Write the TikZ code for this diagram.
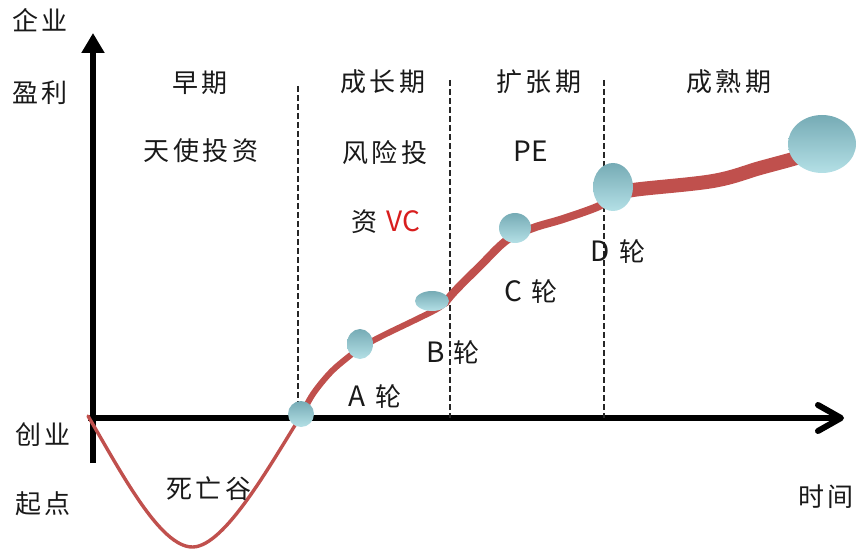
\documentclass[tikz,border=0pt]{standalone}
\usepackage{fontspec}
\setmainfont{Noto Sans CJK SC}
\newfontfamily\cjk[LetterSpace=14]{Noto Sans CJK SC}
\newfontfamily\latn{Noto Sans CJK SC}
\usetikzlibrary{arrows.meta,shapes.geometric}
\definecolor{curvered}{HTML}{C0504D}
\definecolor{vcred}{HTML}{D81E1E}
\definecolor{balltop}{HTML}{76ABB5}
\definecolor{ballbot}{HTML}{B4E0E6}
\newcommand{\lt}[1]{{\latn\fontsize{28}{30}\selectfont #1}}
\begin{document}
\begin{tikzpicture}[x=1pt,y=-1pt,
  lbl/.style={font=\cjk\fontsize{26}{30}\selectfont, inner sep=0pt, anchor=center, text=black!90},
  ball/.style={ellipse, top color=balltop, bottom color=ballbot, draw=none, inner sep=0pt},
  divider/.style={dash pattern=on 6pt off 3pt, line width=2.2pt, black!85},
  axis/.style={line width=6pt, black},
  growth/.style={curvered, line cap=round, line join=round}]
\useasboundingbox (0,0) rectangle (862,556);

% axes
\coordinate (ybot) at (93,463);
\coordinate (ytip) at (93,33);
\coordinate (xleft) at (88,418);
\coordinate (xend) at (838,418);
\coordinate (chevA) at (818,405);
\coordinate (chevB) at (818,431);
\coordinate (chevT) at (841,418);
\draw[axis, -{Triangle[length=20pt,width=22pt]}] (ybot) -- (ytip);
\draw[axis] (xleft) -- (xend);
\draw[axis, line cap=round, line join=round] (chevA) -- (chevT) -- (chevB);

% dividers
\coordinate (d1t) at (298,86);  \coordinate (d1b) at (298,418);
\coordinate (d2t) at (450,80);  \coordinate (d2b) at (450,418);
\coordinate (d3t) at (604,80);  \coordinate (d3b) at (604,418);
\draw[divider] (d1t) -- (d1b);
\draw[divider] (d2t) -- (d2b);
\draw[divider] (d3t) -- (d3b);

% growth curve
\coordinate (start) at (88,416);
\coordinate (valley) at (193,547);
\coordinate (cross) at (302,414);
\draw[growth, line width=3.4pt] (start) .. controls (120,470) and (160,548) .. (valley)
  .. controls (225,546) and (270,465) .. (cross);
\draw[growth, line width=6pt] plot[smooth, tension=0.6] coordinates
  {(302,414) (313,394) (330,373) (347,358) (362,347) (382,336) (413,321) (437,309) (445,303)};
\draw[growth, line width=8pt] plot[smooth, tension=0.6] coordinates
  {(445,303) (455,291) (480,266) (507,240) (533,228) (563,219) (597,207) (613,198)};
\draw[growth, line width=14pt] plot[smooth, tension=0.6] coordinates
  {(613,196) (633,190) (713,181) (760,168) (793,159) (815,152)};

% balls
\node[ball, minimum width=26pt, minimum height=26pt] (b0) at (301,414) {};
\node[ball, minimum width=26pt, minimum height=30pt] (bA) at (360,344) {};
\node[ball, minimum width=34pt, minimum height=20pt] (bB) at (432,301) {};
\node[ball, minimum width=32pt, minimum height=30pt] (bC) at (515,228) {};
\node[ball, minimum width=40pt, minimum height=48pt] (bD) at (613,187) {};
\node[ball, minimum width=68pt, minimum height=58pt] (bE) at (822,144) {};

% axis labels
\node[lbl] (qiye) at (40,20) {企业};
\node[lbl] (yingli) at (40,93) {盈利};
\node[lbl] (chuangye) at (43,435) {创业};
\node[lbl] (qidian) at (43,504) {起点};
\node[lbl] (shijian) at (826,497) {时间};

% stage labels
\node[lbl] (zaoqi) at (200,83) {早期};
\node[lbl] (chengzhang) at (383,82) {成长期};
\node[lbl] (kuozhang) at (539,82) {扩张期};
\node[lbl] (chengshu) at (729,82) {成熟期};
\node[lbl] (tianshi) at (201,151) {天使投资};
\node[lbl] (fengxian) at (385,153) {风险投};
\node[lbl] (pe) at (531,151) {\lt{PE}};
\node[lbl] (zivc) at (386,222) {资 \lt{\color{vcred}VC}};

% rounds
\node[lbl] (ra) at (375,397) {\lt{A} 轮};
\node[lbl] (rb) at (453,353) {\lt{B} 轮};
\node[lbl] (rc) at (531,292) {\lt{C} 轮};
\node[lbl] (rd) at (618,252) {\lt{D} 轮};
\node[lbl] (siwang) at (209,489) {死亡谷};
\end{tikzpicture}
\end{document}
